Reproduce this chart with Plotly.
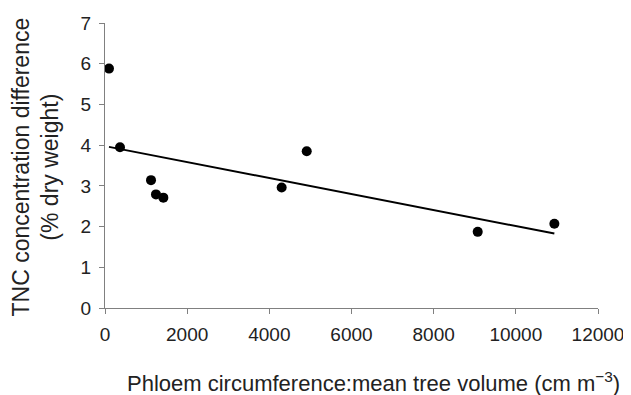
import numpy as np
import plotly.graph_objects as go

ratio = [97, 365, 1120, 1241, 1420, 4300, 4910, 9072, 10938]
tnc_diff = [5.88, 3.95, 3.14, 2.79, 2.71, 2.96, 3.85, 1.87, 2.07]
x_ticks = [0, 2000, 4000, 6000, 8000, 10000, 12000]
x_tick_labels = ["0", "2000", "4000", "6000", "8000", "10000", "12000"]
y_ticks = [0, 1, 2, 3, 4, 5, 6, 7]
y_tick_labels = ["0", "1", "2", "3", "4", "5", "6", "7"]
x_title = "Phloem circumference:mean tree volume (cm m<sup>−3</sup>)"
y_title = "TNC concentration difference<br>(% dry weight)"

slope, intercept = np.polyfit(ratio, tnc_diff, 1)
fit_x = [min(ratio), max(ratio)]
fit_y = [slope * v + intercept for v in fit_x]

fig = go.Figure()
fig.add_trace(go.Scatter(x=fit_x, y=fit_y, mode="lines",
                         line=dict(color="black", width=2), showlegend=False))
fig.add_trace(go.Scatter(x=ratio, y=tnc_diff, mode="markers",
                         marker=dict(color="black", size=10), showlegend=False))

axis_common = dict(showgrid=False, zeroline=False, showline=True, linecolor="#808080",
                   linewidth=1, ticks="outside", ticklen=5, tickcolor="#808080",
                   automargin=False,
                   tickfont=dict(family="Liberation Sans, Arial", size=19, color="#222222"))

# page body has an 8px default margin, so the figure is shrunk/offset accordingly
fig.update_layout(
    width=623, height=387,
    margin=dict(l=97, r=33, t=15, b=87),
    plot_bgcolor="white", paper_bgcolor="white",
    font=dict(family="Liberation Sans, Arial", color="#222222"),
    xaxis=dict(range=[0, 12000], tickvals=x_ticks, ticktext=x_tick_labels,
               ticklabelstandoff=4, **axis_common),
    yaxis=dict(range=[0, 7], tickvals=y_ticks, ticktext=y_tick_labels,
               ticklabelstandoff=4, **axis_common),
    annotations=[
        dict(text=x_title, xref="paper", yref="paper", x=0.545, y=0,
             xanchor="center", yanchor="middle", yshift=-74, showarrow=False,
             font=dict(size=22, color="#222222")),
        dict(text=y_title, xref="paper", yref="paper", x=0, y=0.5,
             xanchor="center", yanchor="middle", xshift=-70, yshift=-2,
             textangle=-90, showarrow=False,
             font=dict(size=23, color="#222222")),
    ],
)
fig.write_html("out.html")
